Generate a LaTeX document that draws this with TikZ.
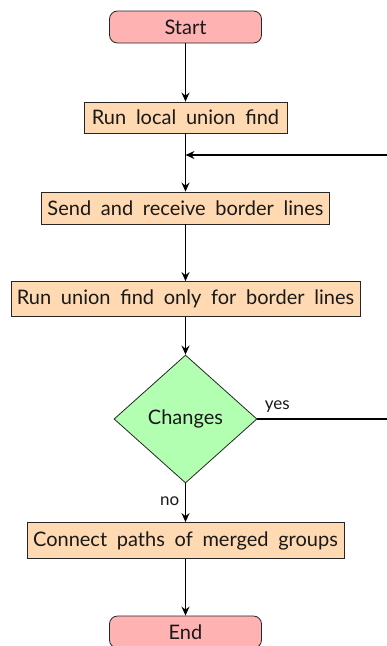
\documentclass[tikz,border=0pt]{standalone}
\usepackage{fontspec}
\setmainfont{Lato}[WordSpace=1.9]
\usetikzlibrary{arrows.meta,shapes.geometric}
\tikzset{
  base/.style={draw=black!85, line width=0.8pt, inner sep=0pt, font=\fontsize{20}{23}\selectfont, text=black!90},
  term/.style={base, rectangle, rounded corners=8pt, fill=red!30, minimum width=152pt, minimum height=32pt},
  proc/.style={base, rectangle, fill=orange!30},
  dec/.style={base, diamond, fill=green!30, minimum width=143pt, minimum height=128pt, aspect=1.12},
  conn/.style={line width=1.6pt, -{Stealth[length=9pt,width=8pt,inset=3pt]}},
  plain/.style={line width=1.6pt},
  lbl/.style={font=\fontsize{17}{20}\selectfont, text=black!90}
}
\begin{document}
\begin{tikzpicture}[x=1pt,y=1pt]
\useasboundingbox (0,0) rectangle (387,-646);
\node[term] (start) at (185.5,-27) {Start};
\node[proc, minimum width=203pt, minimum height=31pt] (local) at (185.5,-117.5) {Run local union find};
\node[proc, minimum width=288pt, minimum height=32pt] (send) at (185.5,-208) {Send and receive border lines};
\node[proc, minimum width=349pt, minimum height=35pt] (only) at (185.5,-299) {Run union find only for border lines};
\node[dec] (chg) at (185.5,-419) {Changes};
\node[proc, minimum width=317pt, minimum height=36pt] (conn) at (185.5,-540.5) {Connect paths of merged groups};
\node[term] (end) at (185.5,-632) {End};
\coordinate (join) at (185.5,-155);
\coordinate (r1) at (400,-419);
\coordinate (r2) at (400,-155);
\draw[conn] (start) -- (local);
\draw[plain] (local) -- (join);
\draw[conn] (join) -- (send);
\draw[conn] (send) -- (only);
\draw[conn] (only) -- (chg);
\draw[conn] (chg) -- node[lbl, left, pos=0.45, xshift=-2pt] (no) {no} (conn);
\draw[conn] (conn) -- (end);
\draw[conn] (chg.east) -- node[lbl, above, pos=0.14, yshift=2pt] (yes) {yes} (r1) -- (r2) -- (join);
\end{tikzpicture}
\end{document}
